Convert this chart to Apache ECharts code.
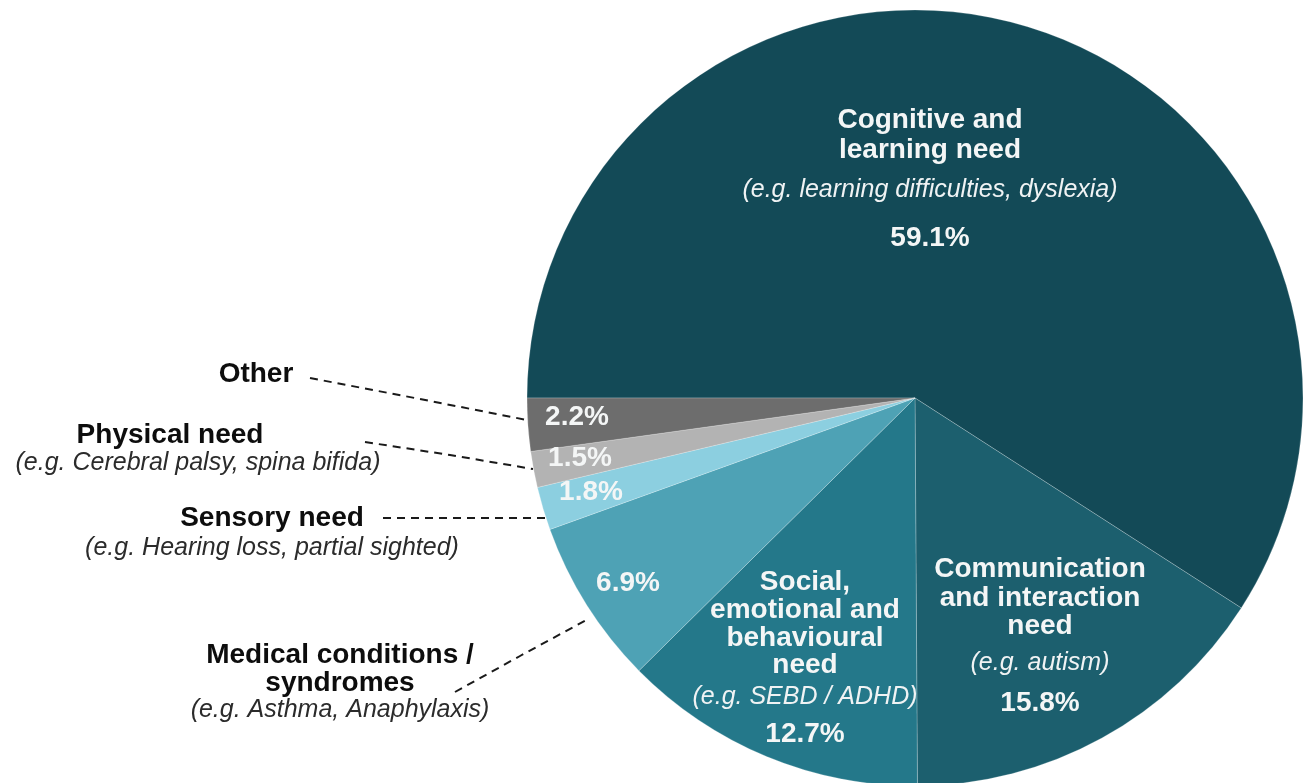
<!DOCTYPE html>
<html>
<head>
<meta charset="utf-8">
<script src="https://cdn.jsdelivr.net/npm/echarts@6/dist/echarts.min.js"></script>
<style>
  html, body { margin: 0; padding: 0; background: #fff; }
  #chart { width: 1304px; height: 783px; }
</style>
</head>
<body>
<div id="chart"></div>
<script>
// data
const categories = [
  'Cognitive and learning need',
  'Communication and interaction need',
  'Social, emotional and behavioural need',
  'Medical conditions / syndromes',
  'Sensory need',
  'Physical need',
  'Other'
];
const shares = [59.1, 15.8, 12.7, 6.9, 1.8, 1.5, 2.2];
const titleLines = [
  'Cognitive and\nlearning need',
  'Communication\nand interaction\nneed',
  'Social,\nemotional and\nbehavioural\nneed',
  'Medical conditions /\nsyndromes',
  'Sensory need',
  'Physical need',
  'Other'
];
const examples = [
  'learning difficulties, dyslexia',
  'autism',
  'SEBD / ADHD',
  'Asthma, Anaphylaxis',
  'Hearing loss, partial sighted',
  'Cerebral palsy, spina bifida',
  ''
];
const colors = ['#134a57', '#1c5f6e', '#24788a', '#4ea2b5', '#8ccfe0', '#b3b3b3', '#6d6d6d'];

// first 3 get the full label inside the slice, the rest only the percent
const insideFull = 3;

// label anchor points (layout only)
const insidePos = [
  [930, 183], [1040, 638], [805, 662], [628, 583], [591, 492], [580, 458], [577, 417]
];
const outsidePos = {
  3: { x: 340, y: 683, line: [[455, 692], [520, 656], [590, 618]] },
  4: { x: 272, y: 533, line: [[383, 518], [465, 518], [545, 518]] },
  5: { x: 198, y: 449, line: [[365, 442], [450, 455], [533, 469]] },
  6: { x: 256, y: 374, line: [[310, 378], [420, 399], [527, 420]] }
};

const FONT = '"Liberation Sans", Arial, sans-serif';

const insideRich = [
  { t: 30, i: 50, p: 46 },
  { t: 28.5, i: 45.5, p: 34.5 },
  { t: 27.7, i: 34.3, p: 41.7 }
];

const mainData = categories.map((name, i) => {
  const item = { name: name, value: shares[i], itemStyle: { color: colors[i] } };
  if (i < insideFull) {
    const lh = insideRich[i];
    item.label = {
      formatter: '{t|' + titleLines[i] + '}\n{i|(e.g. ' + examples[i] + ')}\n{p|' + shares[i].toFixed(1) + '%}',
      rich: {
        t: { fontFamily: FONT, fontWeight: 'bold', fontSize: 28, color: '#f4f6f6', lineHeight: lh.t, align: 'center' },
        i: { fontFamily: FONT, fontStyle: 'italic', fontSize: 25, color: '#f0f3f4', lineHeight: lh.i, align: 'center' },
        p: { fontFamily: FONT, fontWeight: 'bold', fontSize: 28, color: '#f4f6f6', lineHeight: lh.p, align: 'center' }
      }
    };
  } else {
    item.label = {
      formatter: shares[i].toFixed(1) + '%',
      fontFamily: FONT, fontWeight: 'bold', fontSize: 28, color: '#f4f6f6'
    };
  }
  return item;
});

const outsideLH = { 3: 27.5, 4: 30, 5: 28, 6: 28 };
const outsideData = categories.map((name, i) => {
  const show = i >= insideFull;
  const lh = outsideLH[i] || 28;
  const boldPad = i === 5 ? [0, 56, 0, 0] : 0;
  return {
    name: name,
    value: shares[i],
    label: {
      show: show,
      formatter: examples[i]
        ? '{b|' + titleLines[i] + '}\n{i|(e.g. ' + examples[i] + ')}'
        : '{b|' + titleLines[i] + '}',
      rich: {
        b: { fontFamily: FONT, fontWeight: 'bold', fontSize: 28, color: '#0d0d0d', lineHeight: lh, padding: boldPad },
        i: { fontFamily: FONT, fontStyle: 'italic', fontSize: 25, color: '#2b2b2b', lineHeight: lh }
      }
    },
    labelLine: { show: show }
  };
});

const chart = echarts.init(document.getElementById('chart'));
chart.setOption({
  backgroundColor: '#fff',
  animation: false,
  series: [
    {
      type: 'pie',
      center: [915, 398],
      radius: 388,
      startAngle: 180,
      clockwise: true,
      avoidLabelOverlap: false,
      silent: true,
      itemStyle: { borderColor: 'rgba(255,255,255,0.22)', borderWidth: 1 },
      label: { show: true, position: 'inside', align: 'center' },
      labelLine: { show: false },
      labelLayout: (p) => ({
        x: insidePos[p.dataIndex][0],
        y: insidePos[p.dataIndex][1],
        align: 'center',
        verticalAlign: 'middle'
      }),
      data: mainData
    },
    {
      // transparent copy only for the outer captions and dashed leaders
      type: 'pie',
      center: [915, 398],
      radius: 388,
      startAngle: 180,
      clockwise: true,
      avoidLabelOverlap: false,
      silent: true,
      itemStyle: { color: 'rgba(0,0,0,0)', borderWidth: 0 },
      label: { position: 'outside', align: 'center' },
      labelLine: {
        lineStyle: { color: '#1a1a1a', width: 2, type: [8, 6] }
      },
      labelLayout: (p) => {
        const o = outsidePos[p.dataIndex];
        if (!o) return {};
        return {
          x: o.x,
          y: o.y,
          align: 'center',
          verticalAlign: 'middle',
          labelLinePoints: o.line
        };
      },
      data: outsideData
    }
  ]
});
</script>
</body>
</html>
